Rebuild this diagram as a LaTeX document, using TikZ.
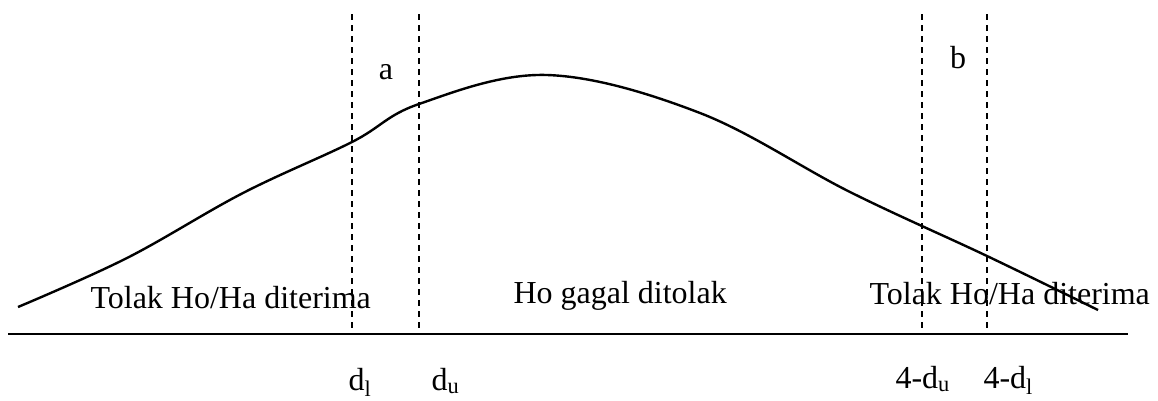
\documentclass[tikz,border=0pt]{standalone}
\usepackage{fontspec}
\setmainfont{Liberation Serif}
\usetikzlibrary{positioning}

\begin{document}
\begin{tikzpicture}[x=1pt,y=-1pt,font=\fontsize{32}{38}\selectfont,
  batas/.style={dash pattern=on 6pt off 5pt,line width=2.4pt},
  kurva/.style={line width=2.4pt}]
\useasboundingbox (0,0) rectangle (1158,400);
% garis dasar
\draw[kurva] (8,334) -- (1128,334);
% batas d_l, d_u, 4-d_u, 4-d_l
\foreach \x/\nama in {352/dl,419/du,922/edu,987/edl}
  {\coordinate (\nama) at (\x,334);
   \draw[batas] (\x,14) -- (\nama);}
\draw[kurva] plot[smooth,tension=0.6] coordinates {(18,307) (127,258)
  (243,193) (352,142) (419,104) (547,75) (700,113) (850,192)
  (987,256) (1098,310)};
\node[anchor=base] (a) at (386,79) {a};
\node[anchor=base] (b) at (958,68) {b};
\node[anchor=base west] (tolakkiri) at (87,308) {Tolak Ho/Ha diterima};
\node[anchor=base west] (gagal) at (510,303) {Ho gagal ditolak};
\node[anchor=base west] (tolakkanan) at (866,304) {Tolak Ho/Ha diterima};
\node[anchor=base west] (ldl) at (345,390) {d\textsubscript{l}};
\node[anchor=base west] (ldu) at (428,390) {d\textsubscript{u}};
\node[anchor=base west] (ledu) at (892,388) {4-d\textsubscript{u}};
\node[anchor=base west] (ledl) at (980,388) {4-d\textsubscript{l}};
\end{tikzpicture}
\end{document}
